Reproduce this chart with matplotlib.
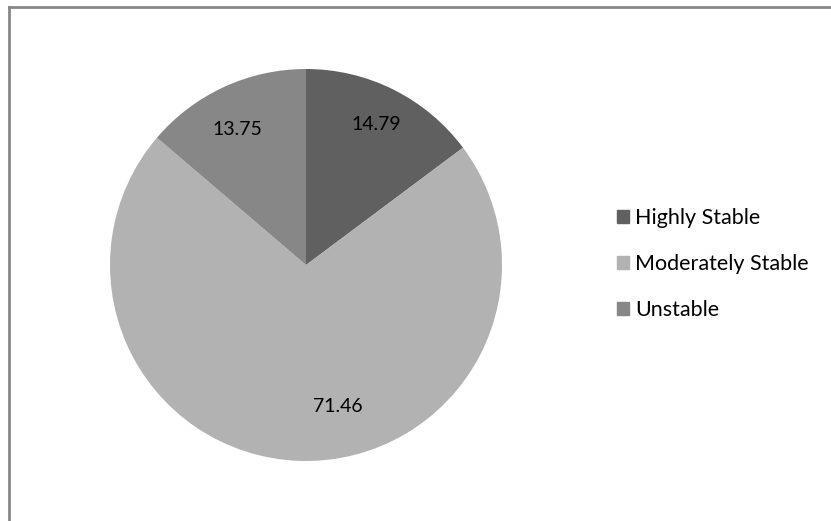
import matplotlib
matplotlib.use("Agg")
import matplotlib.pyplot as plt
from matplotlib.patches import Rectangle
from matplotlib.lines import Line2D

categories = ["Highly Stable", "Moderately Stable", "Unstable"]
values = [14.79, 71.46, 13.75]
colors = ["#606060", "#b2b2b2", "#878787"]

plt.rcParams['font.family'] = ['Lato', 'DejaVu Sans']

W, H = 831, 521
fig = plt.figure(figsize=(W/100, H/100), dpi=100)

# outer frame
fig.add_artist(Line2D([8.5/W, 8.5/W], [0, 1-6.5/H], transform=fig.transFigure, color="#888888", lw=2))
fig.add_artist(Line2D([8.5/W, 1], [1-6.5/H, 1-6.5/H], transform=fig.transFigure, color="#888888", lw=2))

cx, cy, r = 306, 265, 196
ax = fig.add_axes([(cx-r)/W, (H-cy-r)/H, 2*r/W, 2*r/H])
wedges, texts = ax.pie(values, colors=colors, startangle=90, counterclock=False,
                       labels=[f"{v:.2f}" for v in values], labeldistance=0.8,
                       textprops=dict(fontsize=14, color="#000000", ha="center", va="center"),
                       wedgeprops=dict(linewidth=0))
texts[1].set_position((0.16, -0.72))
texts[2].set_position((-0.35, 0.69))
ax.set_xlim(-1, 1)
ax.set_ylim(-1, 1)
ax.set_aspect("equal")
ax.axis("off")

handles = [Rectangle((0, 0), 1, 1, color=c) for c in colors]
leg = fig.legend(handles, categories, loc="center left", bbox_to_anchor=(617/W, 1-264/H),
                 frameon=False, fontsize=15.5, handlelength=0.55, handleheight=0.55,
                 handletextpad=0.3, labelspacing=1.2, borderpad=0, borderaxespad=0)

fig.savefig("out.png", dpi=100)
